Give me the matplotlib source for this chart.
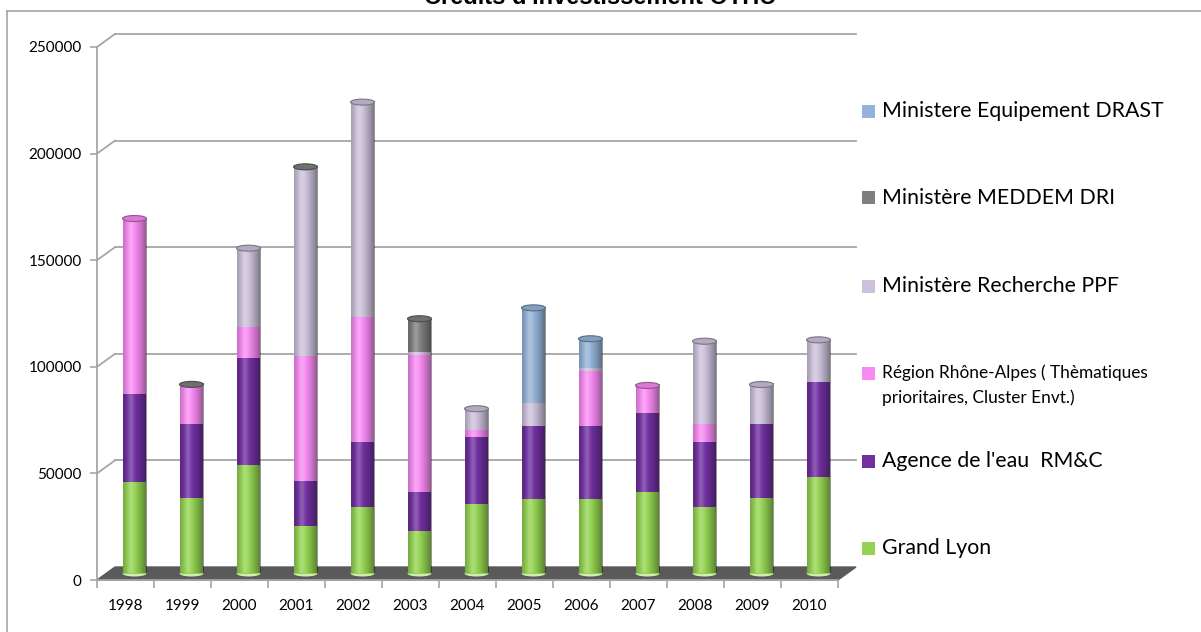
import numpy as np
import matplotlib
matplotlib.use("Agg")
import matplotlib.pyplot as plt
from matplotlib.patches import Ellipse, Polygon, Rectangle
from matplotlib.lines import Line2D
from matplotlib.colors import to_rgb

plt.rcParams['font.family'] = ['Lato', 'DejaVu Sans']

# data
years = ['1998', '1999', '2000', '2001', '2002', '2003', '2004',
         '2005', '2006', '2007', '2008', '2009', '2010']
grand_lyon = [43000, 35500, 51000, 22500, 31400, 19900, 32400, 35000, 35000, 38100, 31400, 35500, 45200]
agence_eau = [41000, 34400, 50200, 21100, 30200, 18200, 31600, 34250, 33950, 37100, 30200, 34400, 44500]
region_ra = [82500, 18300, 14400, 58650, 58600, 64600, 3100, 0, 25950, 13000, 8600, 0, 0]
recherche_ppf = [0, 0, 37000, 88000, 100900, 1100, 10200, 10650, 1600, 0, 38750, 18750, 19900]
meddem_dri = [0, 500, 0, 500, 0, 15700, 0, 0, 0, 0, 0, 0, 0]
drast = [0, 0, 0, 0, 0, 0, 0, 44700, 13600, 0, 0, 0, 0]

series = [grand_lyon, agence_eau, region_ra, recherche_ppf, meddem_dri, drast]
labels = ["Grand Lyon", "Agence de l'eau  RM&C",
          "Région Rhône-Alpes ( Thèmatiques\nprioritaires, Cluster Envt.)",
          "Ministère Recherche PPF", "Ministère MEDDEM DRI", "Ministere Equipement DRAST"]
colors = ['#94d352', '#7030a0', '#f78bf2', '#ccc1da', '#7f7f7f', '#95b3d7']
title = "Crédits d'investissement OTHU"

W, H = 1201, 632
fig = plt.figure(figsize=(W / 100, H / 100), dpi=100)
ax = fig.add_axes([97 / W, (H - 580) / H, 741 / W, 533 / H])

n = len(years)
dx = 18 / 57.0            # depth offset of the back wall (categories)
dy = 13 / 533.0 * 250000  # depth offset of the back wall (values)
bw = 0.42
cap_h = 6 / 533.0 * 250000
grid_c = '#a6a6a6'

# back wall grid + diagonals
for v in range(50000, 250001, 50000):
    ax.plot([-0.5 + dx, n - 0.5 + dx], [v + dy, v + dy], color=grid_c, lw=1.3,
            clip_on=False, zorder=1)
    ax.plot([-0.5, -0.5 + dx], [v, v + dy], color=grid_c, lw=1.3, clip_on=False, zorder=1)

# floor
floor = Polygon([(-0.5, 0), (n - 0.5, 0), (n - 0.5 + dx, dy), (-0.5 + dx, dy)],
                closed=True, facecolor='#5a5a5a', edgecolor='#5a5a5a', zorder=2, clip_on=False)
ax.add_patch(floor)

# cylinder shading
t = np.linspace(0, 1, 64)
dark = np.zeros((1, 64, 4))
dark[0, :, 3] = 0.42 * np.clip((np.abs(t - 0.38) - 0.08) / 0.54, 0, 1) ** 1.3
light = np.ones((1, 64, 4))
light[0, :, 3] = 0.22 * np.exp(-((t - 0.33) / 0.13) ** 2)

base = dy / 2
for i in range(n):
    cx = i + dx / 2
    bottom = base
    top_col = colors[0]
    ax.add_patch(Ellipse((cx, base), bw, cap_h, facecolor='#d3ecb2', edgecolor='none',
                         zorder=2.5, clip_on=False))
    for vals, col in zip(series, colors):
        h = vals[i]
        if h <= 0:
            continue
        ax.bar(cx, h, width=bw, bottom=bottom, color=col, linewidth=0, zorder=3)
        bottom += h
        top_col = col
    ext = [cx - bw / 2, cx + bw / 2, base, bottom]
    ax.imshow(dark, extent=ext, aspect='auto', zorder=4, interpolation='bilinear')
    ax.imshow(light, extent=ext, aspect='auto', zorder=4, interpolation='bilinear')
    rgb = np.array(to_rgb(top_col))
    ax.add_patch(Ellipse((cx, bottom), bw, cap_h, facecolor=rgb * 0.88,
                         edgecolor=rgb * 0.6, lw=0.8, zorder=5, clip_on=False))

ax.set_xlim(-0.5, 12.5)
ax.set_ylim(0, 250000)

# axes
for s in ['top', 'right', 'bottom']:
    ax.spines[s].set_visible(False)
ax.spines['left'].set_color(grid_c)
ax.spines['left'].set_linewidth(1.3)
ax.set_yticks(range(0, 250001, 50000))
ax.tick_params(axis='y', length=5, width=1.2, color=grid_c, pad=6, labelsize=11)
ax.set_xticks(range(n))
ax.set_xticklabels(years)
ax.set_xticks(np.arange(-0.5, n, 1.0), minor=True)
ax.tick_params(axis='x', which='major', length=0, pad=14, labelsize=11)
ax.tick_params(axis='x', which='minor', length=6, width=1.2, color=grid_c)
ax.plot([-0.5, n - 0.5], [0, 0], color=grid_c, lw=1.3, clip_on=False, zorder=2.2)

# legend (top entry = last series)
leg_y = [111, 198, 286, 373, 461, 548]
order = list(range(len(series)))[::-1]
for y, k in zip(leg_y, order):
    fig.add_artist(Rectangle((862 / W, (H - y - 6.5) / H), 13 / W, 13 / H,
                             transform=fig.transFigure, facecolor=colors[k], edgecolor='none'))
    lines = labels[k].split('\n')
    fs = 12.4 if len(lines) > 1 else 15.3
    for j, line in enumerate(lines):
        fig.text(882 / W, (H - y - 25 * j) / H, line, ha='left', va='center',
                 fontsize=fs, color='black')

# frame and title
fig.add_artist(Line2D([7 / W, 7 / W], [0, (H - 11) / H], color=grid_c, lw=1.2,
                      transform=fig.transFigure))
fig.add_artist(Line2D([7 / W, 1], [(H - 11) / H, (H - 11) / H], color=grid_c, lw=1.2,
                      transform=fig.transFigure))
fig.text(600 / W, (H - 4) / H, title, ha='center', va='baseline', fontsize=17,
         fontweight='bold', family='Liberation Sans')

fig.savefig('out.png', dpi=100)
